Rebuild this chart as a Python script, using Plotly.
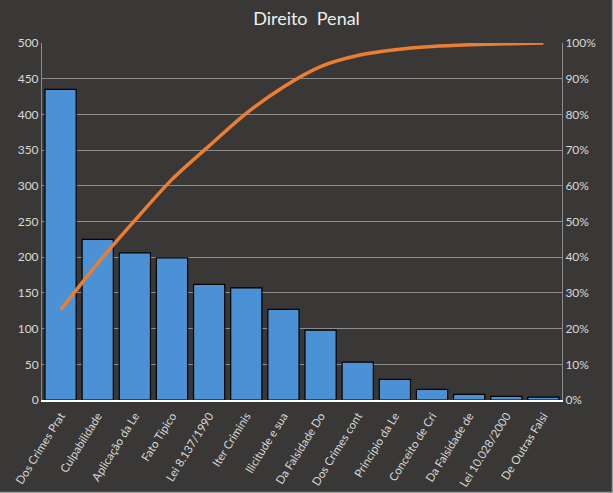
import plotly.graph_objects as go

categories = ["Dos Crimes Prat", "Culpabilidade", "Aplicação da Le", "Fato Típico",
              "Lei 8.137/1990", "Iter Criminis", "Ilicitude e sua", "Da Falsidade Do",
              "Dos Crimes cont", "Princípio da Le", "Conceito de Cri", "Da Falsidade de",
              "Lei 10.028/2000", "De Outras Falsi"]
counts = [435, 225, 206, 199, 162, 157, 127, 98, 53, 29, 15, 8, 5, 4]
cumulative_pct = [0.252, 0.383, 0.503, 0.618, 0.712, 0.803, 0.877, 0.934,
                  0.965, 0.981, 0.990, 0.995, 0.998, 1.000]

bg = "#3a3836"
txt = "#d9d9d9"
grid = "#8c8c8c"
font_family = "Lato, 'Open Sans', sans-serif"

fig = go.Figure()
fig.add_trace(go.Bar(
    x=categories, y=counts,
    marker=dict(color="#4b91d5", line=dict(color="#000000", width=1.2)),
    showlegend=False,
))
fig.add_trace(go.Scatter(
    x=categories, y=cumulative_pct, yaxis="y2", mode="lines",
    line=dict(color="#ed7d31", width=3.5, shape="spline", smoothing=0.8),
    showlegend=False,
))

fig.update_layout(
    width=613, height=493,
    paper_bgcolor=bg, plot_bgcolor=bg,
    margin=dict(l=42, r=51, t=43, b=93, autoexpand=False),
    bargap=0.16,
    font=dict(family=font_family, color=txt, size=12),
    title=dict(text="Direito  Penal", x=0.5, xanchor="center", y=0.963, yanchor="middle",
               font=dict(size=18, color="#eeeeee", family=font_family)),
    xaxis=dict(tickangle=-58, showgrid=False, showline=True, linecolor="#ffffff",
               linewidth=1.5, ticks="", automargin=False, ticklabelstandoff=3,
               tickfont=dict(size=11.5, color=txt)),
    yaxis=dict(range=[0, 500], dtick=50, showgrid=True, gridcolor=grid, gridwidth=1,
               showline=True, linecolor=grid, linewidth=1, zeroline=False, automargin=False,
               ticks="", tickfont=dict(size=12, color=txt)),
    yaxis2=dict(range=[0, 1], dtick=0.1, tickformat=".0%", overlaying="y", side="right",
                showgrid=False, showline=True, linecolor=grid, linewidth=1, zeroline=False,
                automargin=False, ticks="", tickfont=dict(size=12, color=txt)),
    shapes=[
        dict(type="line", xref="paper", yref="paper",
             x0=1+50.5/520, x1=1+50.5/520, y0=-93/357, y1=1+43/357,
             line=dict(color="#9a9a9a", width=1.5)),
        dict(type="line", xref="paper", yref="paper",
             x0=-42/520, x1=1+51/520, y0=-92.5/357, y1=-92.5/357,
             line=dict(color="#9a9a9a", width=1.5)),
    ],
)

fig.write_html("out.html", config={"displayModeBar": False},
               post_script="document.body.style.margin='0px';document.body.style.padding='0px';")
